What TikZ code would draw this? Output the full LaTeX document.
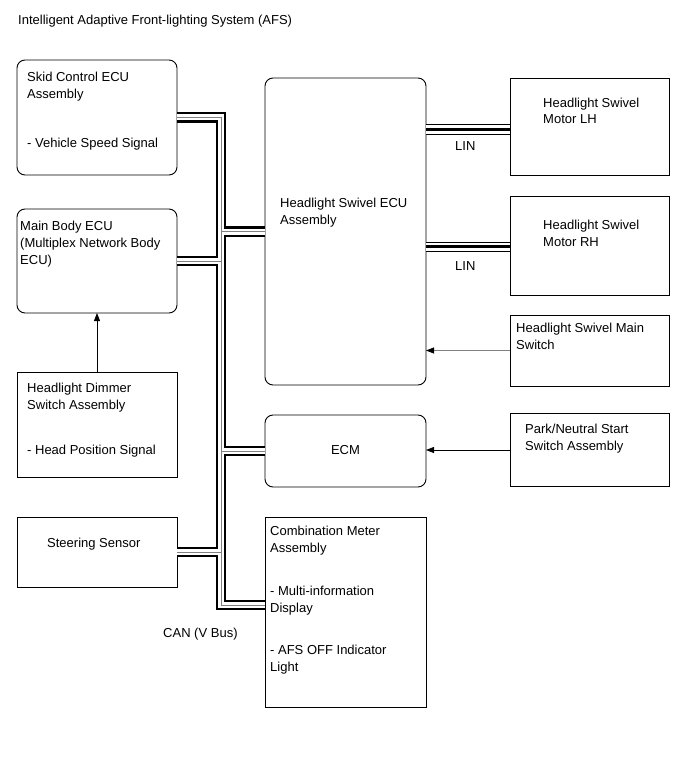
\documentclass[tikz,border=0pt]{standalone}
\usepackage{fontspec}
\setmainfont{Liberation Sans}
\usetikzlibrary{arrows.meta,calc}
\begin{document}
\begin{tikzpicture}[x=1pt,y=-1pt,
  box/.style={draw=black,line width=0.9pt,inner sep=0pt,outer sep=0pt},
  rbox/.style={box,rounded corners=8pt},
  txt/.style={inner sep=0pt,anchor=base west,align=left,font=\fontsize{13}{17}\selectfont},
  sig/.style={line width=0.8pt,-{Triangle[length=8pt,width=6pt,color=black]}}
]
\useasboundingbox (0,0) rectangle (691,757);

% boxes (nodes)
\node[rbox,minimum width=160,minimum height=115] (skid) at (97,117.5) {};
\node[rbox,minimum width=160,minimum height=104] (mainbody) at (97,261) {};
\node[box,minimum width=160,minimum height=105] (dimmer) at (97,424.5) {};
\node[box,minimum width=160,minimum height=70] (steer) at (97,552) {};
\node[rbox,minimum width=161,minimum height=307] (swecu) at (345.5,231.5) {};
\node[rbox,minimum width=161,minimum height=72] (ecm) at (345.5,451) {};
\node[box,minimum width=161,minimum height=190] (comb) at (345.5,612) {};
\node[box,minimum width=159,minimum height=97] (motorLH) at (589.5,126.5) {};
\node[box,minimum width=159,minimum height=99] (motorRH) at (589.5,245.5) {};
\node[box,minimum width=159,minimum height=71] (mainsw) at (589.5,350.5) {};
\node[box,minimum width=159,minimum height=73] (park) at (589.5,450) {};

\coordinate (bus) at (221,605);
\coordinate (linL) at (468,129.5);
\coordinate (linR) at (468,246.5);

% CAN bus: three passes (outer black, white, centre grey)
\foreach \w/\c in {10.5/black,6/white,0.9/gray}{
  \draw[line width=\w pt,draw=\c,line join=miter]
    (skid.east) -| (bus) -- (bus -| comb.west)
    (swecu.west) -- (swecu.west -| bus)
    (mainbody.east) -- (mainbody.east -| bus)
    (ecm.west) -- (ecm.west -| bus)
    (steer.east) -- (steer.east -| bus);
}

% LIN lines
\foreach \w/\c in {10/black,8/white,3.5/black}{
  \draw[line width=\w pt,draw=\c]
    (swecu.east |- linL) -- (motorLH.west |- linL)
    (swecu.east |- linR) -- (motorRH.west |- linR);
}

% signal arrows
\draw[sig,draw=gray] (mainsw.west) -- (mainsw.west -| swecu.east);
\draw[sig] (park.west) -- (park.west -| ecm.east);
\draw[sig] (dimmer.north) -- (mainbody.south);

% texts (base = baseline of the last line)
\node[txt] (title) at (18,25) {Intelligent Adaptive Front-lighting System (AFS)};
\node[txt] (t1) at (27,99) {Skid Control ECU\\Assembly};
\node[txt] (t2) at (27,147) {- Vehicle Speed Signal};
\node[txt] (t3) at (20,264) {Main Body ECU\\(Multiplex Network Body\\ECU)};
\node[txt] (t4) at (27,409) {Headlight Dimmer\\Switch Assembly};
\node[txt] (t5) at (27,454) {- Head Position Signal};
\node[txt] (t6) at (47,547) {Steering Sensor};
\node[txt] (t7) at (280,224) {Headlight Swivel ECU\\Assembly};
\node[txt,anchor=base] (t8) at (345.5,454) {ECM};
\node[txt] (t9) at (270,552) {Combination Meter\\Assembly};
\node[txt] (t10) at (270,612) {- Multi-information\\Display};
\node[txt] (t11) at (270,671) {- AFS OFF Indicator\\Light};
\node[txt] (t12) at (543,124) {Headlight Swivel\\Motor LH};
\node[txt] (t13) at (543,246) {Headlight Swivel\\Motor RH};
\node[txt] (t14) at (516,349) {Headlight Swivel Main\\Switch};
\node[txt] (t15) at (525,450) {Park/Neutral Start\\Switch Assembly};
\node[txt] (lin1) at (455,150) {LIN};
\node[txt] (lin2) at (455,270) {LIN};
\node[txt] (can) at (163,637) {CAN (V Bus)};
\end{tikzpicture}
\end{document}
